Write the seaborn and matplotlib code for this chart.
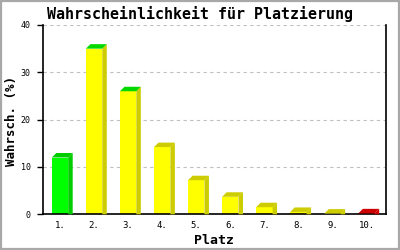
import matplotlib
matplotlib.use("Agg")
import matplotlib.pyplot as plt
import seaborn as sns
import pandas as pd
from matplotlib.patches import Polygon, Rectangle
from matplotlib.transforms import IdentityTransform

# ---- data ----
places = ["1.", "2.", "3.", "4.", "5.", "6.", "7.", "8.", "9.", "10."]
probs = [12.0, 35.0, 26.0, 14.2, 7.2, 3.7, 1.5, 0.5, 0.15, 0.2]
front_colors = ["#00FF00"] + ["#FFFF00"] * 8 + ["#FF0000"]
side_colors = ["#00CC00"] + ["#CCCC00"] * 8 + ["#CC0000"]
top_colors = ["#00CC00", "#00D800", "#00D800"] + ["#CCCC00"] * 6 + ["#CC0000"]
y_ticks = [0, 10, 20, 30, 40]

title = "Wahrscheinlichkeit für Platzierung"
xlabel = "Platz"
ylabel = "Wahrsch. (%)"

sns.set_theme(style="white")
plt.rcParams["font.family"] = ["DejaVu Sans Mono", "DejaVu Sans"]

DPI = 100
fig = plt.figure(figsize=(4, 2.5), dpi=DPI)
fig.patch.set_facecolor("white")
ax = fig.add_axes([43 / 400, 1 - 214.3 / 250, (385.6 - 43) / 400, (214.3 - 25) / 250])

df = pd.DataFrame({"place": places, "prob": probs})
sns.barplot(data=df, x="place", y="prob", hue="place", palette=front_colors,
            legend=False, width=0.48, saturation=1, ax=ax, zorder=2,
            edgecolor="none", linewidth=0)

ax.set_xlim(-0.5, 9.56)
ax.set_ylim(0, 40)
ax.set_yticks(y_ticks)
ax.set_yticklabels([str(t) for t in y_ticks])
ax.set_axisbelow(True)
ax.yaxis.grid(True, color="#C0C0C0", linestyle=(0, (3, 3)), linewidth=0.8)
ax.xaxis.grid(False)

for s in ["left", "bottom", "right"]:
    ax.spines[s].set_visible(True)
    ax.spines[s].set_color("black")
    ax.spines[s].set_linewidth(1.2)
ax.spines["top"].set_visible(False)

ax.tick_params(axis="y", which="major", length=4, width=1.0, color="black",
               pad=5, labelsize=6, left=True, direction="out")
ax.tick_params(axis="x", which="major", length=0, pad=5, labelsize=6.5)
for lbl in ax.get_xticklabels() + ax.get_yticklabels():
    lbl.set_color("black")

ax.set_xlabel(xlabel, fontsize=9.5, fontweight="bold", color="black", labelpad=3)
ax.set_ylabel(ylabel, fontsize=9, fontweight="bold", color="black",
              va="center", ha="center")
ax.yaxis.set_label_coords((12 - 43) / (385.6 - 43), (214.3 - 121) / (214.3 - 25))

fig.text(0.5, 1 - 13.5 / 250, title, ha="center", va="center",
         fontsize=10.8, fontweight="bold", color="black")

# ---- 3D faces computed from the seaborn bars ----
dx, dy = 4.5, 4.5
bars = [p for p in ax.patches]
trans = ax.transData
for i, p in enumerate(bars):
    x0 = p.get_x()
    w = p.get_width()
    h = p.get_height()
    (px0, py0) = trans.transform((x0, 0))
    (px1, py1) = trans.transform((x0 + w, h))
    side = Polygon([(px1, py0), (px1, py1), (px1 + dx, py1 + dy), (px1 + dx, py0)],
                   closed=True, facecolor=side_colors[i], edgecolor="none",
                   transform=IdentityTransform(), zorder=2.4)
    top = Polygon([(px0, py1), (px0 + dx, py1 + dy), (px1 + dx, py1 + dy), (px1, py1)],
                  closed=True, facecolor=top_colors[i], edgecolor="none",
                  transform=IdentityTransform(), zorder=2.4)
    fig.add_artist(side)
    fig.add_artist(top)

# figure border
fig.add_artist(Rectangle((0.0025, 0.004), 0.995, 0.992, transform=fig.transFigure,
                         fill=False, edgecolor="#A8A8A8", linewidth=1.6))

fig.savefig("out.png", dpi=DPI)
